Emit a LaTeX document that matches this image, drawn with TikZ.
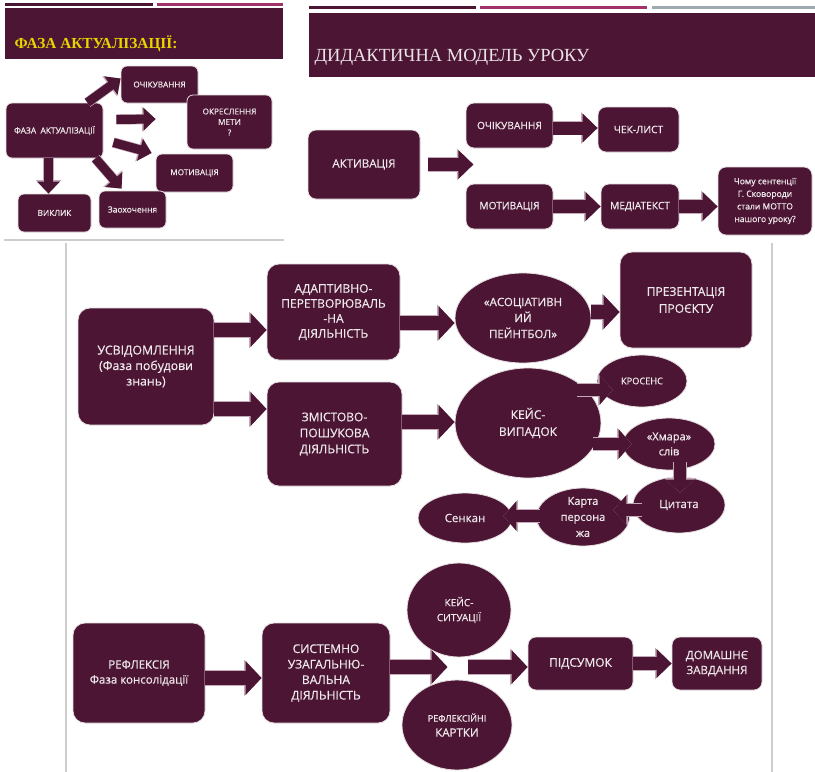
\documentclass[tikz,border=0pt]{standalone}
\usepackage{fontspec}
\setmainfont{Open Sans}[FakeBold=0.6]
\newfontfamily\titlefont{Liberation Serif}
\usetikzlibrary{shapes.geometric,arrows.meta,positioning,calc}

\definecolor{plum}{RGB}{76,21,51}
\definecolor{rose}{RGB}{160,50,105}
\definecolor{steel}{RGB}{160,168,176}
\definecolor{gold}{RGB}{232,212,0}
\definecolor{rim}{RGB}{196,170,185}
\definecolor{frame}{RGB}{205,205,205}

\begin{document}
\begin{tikzpicture}[x=1pt,y=-1pt,
    box/.style={draw=white!85!plum, line width=0.8pt, fill=plum, rounded corners=#1,
        text=white!90!plum, align=center, inner sep=1pt},
    box/.default=8pt,
    oval/.style={ellipse, draw=white!85!plum, line width=0.8pt, fill=plum,
        text=white!90!plum, align=center, inner sep=0pt},
    fs/.style 2 args={font=\fontsize{#1}{#2}\selectfont},
    pipeS/.style={draw=plum, line width=9pt, -{Triangle[length=12pt,width=22pt]},
        preaction={draw=rim, line width=10.4pt, -{Triangle[length=13.5pt,width=24.5pt]}}},
    pipeM/.style={draw=plum, line width=13pt, -{Triangle[length=15pt,width=28pt]},
        preaction={draw=rim, line width=14.4pt, -{Triangle[length=16.5pt,width=30.5pt]}}},
    pipeL/.style={draw=plum, line width=14pt, -{Triangle[length=16pt,width=33pt]},
        preaction={draw=rim, line width=15.4pt, -{Triangle[length=17.5pt,width=35.5pt]}}},
    pipeE/.style={draw=plum, line width=12pt, -{Triangle[length=13pt,width=29pt]},
        preaction={draw=rim, line width=13.4pt, -{Triangle[length=14.5pt,width=31.5pt]}}}]

    \useasboundingbox[fill=white] (0,0) rectangle (815,772);

    % Slide 1: header
    \draw[plum, line width=3pt] (5,4.5) -- (153,4.5);
    \draw[rose, line width=3pt] (157,4.5) -- (283,4.5);
    \fill[plum] (5,8) rectangle (283,59);
    \node[anchor=west, text=gold, font=\titlefont\bfseries\fontsize{15.3}{17}\selectfont] (title1) at (11,44) {ФАЗА АКТУАЛІЗАЦІЇ:};

    % Slide 1: boxes
    \node[box=6pt, minimum width=97pt, minimum height=55pt, fs={8.4}{9}] (fa) at (54.5,130.5) {ФАЗА\ \ АКТУАЛІЗАЦІЇ};
    \node[box=6pt, minimum width=77pt, minimum height=37pt, fs={8.2}{9}] (ochik1) at (159.5,84.5) {ОЧІКУВАННЯ};
    \node[box=6pt, minimum width=85pt, minimum height=54pt, fs={8.2}{10.5}] (okresl) at (229.5,122) {ОКРЕСЛЕННЯ\\МЕТИ\\?};
    \node[box=6pt, minimum width=77pt, minimum height=38pt, fs={8.2}{9}] (motyv1) at (194.5,173) {МОТИВАЦІЯ};
    \node[box=6pt, minimum width=73pt, minimum height=38pt, fs={8.2}{9}] (vyklyk) at (54.5,213) {ВИКЛИК};
    \node[box=6pt, minimum width=67pt, minimum height=37pt, fs={8.5}{9}] (zaokh) at (132.5,209.5) {Заохочення};

    % Slide 1: arrows
    \draw[pipeS] ([xshift=-16pt]fa.north east) -- ([yshift=6pt]ochik1.west);
    \draw[pipeS] ([shift={(13pt,11pt)}]fa.east) -- ([shift={(-31pt,3pt)}]okresl.west);
    \draw[pipeS] ([shift={(10pt,-12pt)}]fa.east) -- ([shift={(-4pt,20pt)}]motyv1.west);
    \draw[pipeS] ([xshift=-6pt]fa.south) -- ([xshift=-6pt]vyklyk.north);
    \draw[pipeS] ([xshift=-8pt]fa.south east) -- ([shift={(23pt,2pt)}]zaokh.north west);

    % Slide 2: header
    \draw[plum, line width=3pt] (309,7.5) -- (476,7.5);
    \draw[rose, line width=3pt] (480,7.5) -- (647,7.5);
    \draw[steel, line width=3pt] (652,7.5) -- (815,7.5);
    \fill[plum] (309,13) rectangle (815,77);
    \node[anchor=west, text=white!88!plum, font=\titlefont\fontsize{18.5}{20}\selectfont] (title2) at (311,57) {ДИДАКТИЧНА МОДЕЛЬ УРОКУ};

    % Slide 2: boxes
    \node[box, minimum width=112pt, minimum height=69pt, fs={11.5}{12}] (aktyv) at (364,164.5) {АКТИВАЦІЯ};
    \node[box, minimum width=87pt, minimum height=45pt, fs={10.2}{12}] (ochik2) at (509.5,125.5) {ОЧІКУВАННЯ};
    \node[box, minimum width=81pt, minimum height=45pt, fs={10.2}{12}] (cheklist) at (638.5,129.5) {ЧЕК-ЛИСТ};
    \node[box, minimum width=87pt, minimum height=45pt, fs={10.2}{12}] (motyv2) at (509.5,206.5) {МОТИВАЦІЯ};
    \node[box, minimum width=78pt, minimum height=45pt, fs={10.2}{12}] (media) at (640,206.5) {МЕДІАТЕКСТ};
    \node[box, minimum width=94pt, minimum height=68pt, fs={8.6}{12.6}] (question) at (765,201) {Чому сентенції\\Г. Сковороди\\стали МОТТО\\нашого уроку?};

    % Slide 2: arrows
    \draw[pipeM] ([xshift=8pt]aktyv.east) -- ([xshift=53pt]aktyv.east);
    \draw[pipeM] ([yshift=-2.5pt]ochik2.east) -- ([yshift=1.5pt]cheklist.west);
    \draw[pipeM] (motyv2.east) -- (media.west);
    \draw[pipeM] (media.east) -- (media.east -| question.west);

    % Slide 3: frame
    \draw[frame, line width=1.5pt] (4,240) -- (284,240);
    \draw[frame, line width=1.5pt] (66,243) -- (66,772);
    \draw[frame, line width=1.5pt] (772,243) -- (772,772);

    % Slide 3: upper part
    \node[box=12pt, minimum width=136pt, minimum height=117pt, fs={12.3}{15.5}] (usvid) at (146,366.5) {УСВІДОМЛЕННЯ\\(Фаза побудови\\знань)};
    \node[box=12pt, minimum width=133pt, minimum height=96pt, fs={12}{15}] (adapt) at (333.5,312) {АДАПТИВНО-\\ПЕРЕТВОРЮВАЛЬ\\-НА\\ДІЯЛЬНІСТЬ};
    \node[box=12pt, minimum width=135pt, minimum height=104pt, fs={12}{16}] (zmist) at (334.5,434) {ЗМІСТОВО-\\ПОШУКОВА\\ДІЯЛЬНІСТЬ};
    \node[oval, minimum width=136pt, minimum height=90pt, fs={11.5}{16}] (assoc) at (523,318) {«АСОЦІАТИВН\\ИЙ\\ПЕЙНТБОЛ»};
    \node[box=12pt, minimum width=132pt, minimum height=96pt, fs={12}{17}] (present) at (686,300) {ПРЕЗЕНТАЦІЯ\\ПРОЄКТУ};
    \node[oval, minimum width=146pt, minimum height=110pt, fs={12}{17}] (keys) at (528,423) {КЕЙС-\\ВИПАДОК};
    \node[oval, minimum width=90pt, minimum height=52pt, fs={9.2}{10}] (krosens) at (642,381) {КРОСЕНС};
    \node[oval, minimum width=92pt, minimum height=52pt, fs={11}{15}] (xmara) at (669,444) {«Хмара»\\слів};
    \node[oval, minimum width=92pt, minimum height=56pt, fs={11.5}{12}] (tsytata) at (679,505) {Цитата};
    \node[oval, minimum width=93pt, minimum height=58pt, fs={11}{16}] (karta) at (583,517) {Карта\\персона\\жа};
    \node[oval, minimum width=94pt, minimum height=50pt, fs={11.5}{12}] (senkan) at (465,518) {Сенкан};

    % Slide 3: upper arrows
    \draw[pipeL] ([yshift=36.5pt]usvid.east) -- ([yshift=-18pt]adapt.west);
    \draw[pipeL] ([yshift=-42.5pt]usvid.east) -- ([yshift=25pt]zmist.west);
    \draw[pipeL] ([yshift=-11pt]adapt.east) -- ([yshift=-5pt]assoc.west);
    \draw[pipeL] ([yshift=12pt]zmist.east) -- ([yshift=1pt]keys.west);
    \draw[pipeL] ([yshift=6pt]assoc.east) -- ([yshift=-12pt]present.west);
    \draw[pipeE] ([shift={(-24pt,33pt)}]keys.east) -- ([shift={(16pt,-9pt)}]krosens.west);
    \draw[pipeE] ([shift={(-8pt,-21pt)}]keys.east) -- ([xshift=9pt]xmara.west);
    \draw[pipeE] ([shift={(11pt,8pt)}]xmara.south) -- ([shift={(1pt,-16pt)}]tsytata.north);
    \draw[pipeE] ([shift={(9pt,-5pt)}]tsytata.west) -- ([shift={(-16.5pt,7pt)}]karta.east);
    \draw[pipeE] ([shift={(3.5pt,1pt)}]karta.west) -- ([shift={(-9pt,2pt)}]senkan.east);

    % Slide 3: lower part
    \node[box=12pt, minimum width=132pt, minimum height=100pt, fs={11.5}{15}] (reflex) at (139,673) {РЕФЛЕКСІЯ\\Фаза консолідації};
    \node[box=12pt, minimum width=128pt, minimum height=100pt, fs={12}{15.5}] (system) at (326,673) {СИСТЕМНО\\УЗАГАЛЬНЮ-\\ВАЛЬНА\\ДІЯЛЬНІСТЬ};
    \node[oval, minimum width=104pt, minimum height=94pt, fs={10}{15}] (keyssit) at (459,610) {КЕЙС-\\СИТУАЦІЇ};
    \node[oval, minimum width=110pt, minimum height=90pt, fs={9}{15}] (reflcard) at (457,725) {РЕФЛЕКСІЙНІ\\{\fontsize{11.5}{14}\selectfont КАРТКИ}};
    \node[box=8pt, minimum width=105pt, minimum height=53pt, fs={12}{14}] (pidsumok) at (580.5,663.5) {ПІДСУМОК};
    \node[box=8pt, minimum width=90pt, minimum height=53pt, fs={11.5}{15}] (homework) at (717,663.5) {ДОМАШНЄ\\ЗАВДАННЯ};
    \coordinate (gap) at (457.5,667);

    % Slide 3: lower arrows
    \draw[pipeL] ([yshift=-5pt]reflex.east) -- ([yshift=-5pt]system.west);
    \draw[pipeL] ([yshift=6pt]system.east) -- ([xshift=-10pt]gap);
    \draw[pipeL] ([xshift=10pt]gap) -- (gap -| pidsumok.west);
    \draw[pipeM] (pidsumok.east) -- (homework.west);
\end{tikzpicture}
\end{document}
